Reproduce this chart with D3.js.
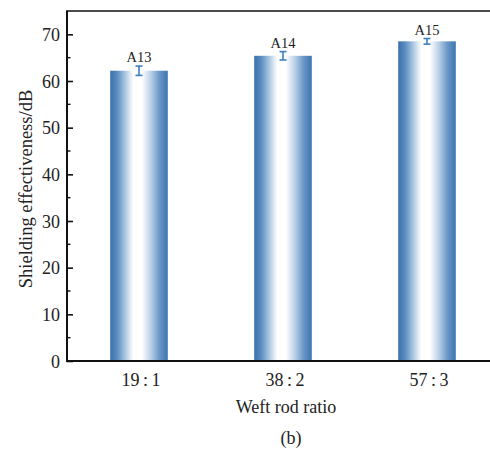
<!DOCTYPE html>
<html>
<head>
<meta charset="utf-8">
<script src="https://cdn.jsdelivr.net/npm/d3@7"></script>
<style>
  html, body { margin: 0; padding: 0; background: #fff; }
  svg { display: block; }
</style>
</head>
<body>
<svg id="chart" width="490" height="450"></svg>
<script>
// Shielding effectiveness by weft rod ratio
const categories = ["19\u2009:\u20091", "38\u2009:\u20092", "57\u2009:\u20093"];
const sampleLabels = ["A13", "A14", "A15"];
const values = [62.2, 65.4, 68.5];
const errors = [1.0, 0.9, 0.6];
const yTicks = [0, 10, 20, 30, 40, 50, 60, 70];
const yMinorTicks = [5, 15, 25, 35, 45, 55, 65];

const serif = "Liberation Serif, Times New Roman, Times, DejaVu Serif, serif";

const svg = d3.select("#chart")
  .attr("font-family", serif)
  .style("font-family", serif);
const m = { left: 67, top: 11, right: 499, bottom: 361 };

const x = d3.scaleBand()
  .domain(categories)
  .range([m.left, m.right])
  .paddingInner(0.6)
  .paddingOuter(0.3);

const y = d3.scaleLinear().domain([0, 75]).range([m.bottom, m.top]);

// horizontal blue–white–blue fill for the bars
const defs = svg.append("defs");
const grad = defs.append("linearGradient")
  .attr("id", "barFill")
  .attr("x1", "0").attr("x2", "1").attr("y1", "0").attr("y2", "0");
[
  [0.00, "#3a71ab"],
  [0.12, "#5a8cc0"],
  [0.28, "#b7cfe6"],
  [0.40, "#ffffff"],
  [0.55, "#ffffff"],
  [0.70, "#bcd2e7"],
  [0.86, "#6795c6"],
  [1.00, "#3f76b0"]
].forEach(([o, c]) => grad.append("stop").attr("offset", o).attr("stop-color", c));

// bars
svg.append("g").selectAll("rect")
  .data(values)
  .join("rect")
  .attr("x", (d, i) => x(categories[i]))
  .attr("y", d => y(d))
  .attr("width", x.bandwidth())
  .attr("height", d => y(0) - y(d))
  .attr("fill", "url(#barFill)");

// error bars
const eg = svg.append("g").attr("stroke", "#3b7fc1").attr("stroke-width", 1.6);
values.forEach((v, i) => {
  const cx = x(categories[i]) + x.bandwidth() / 2;
  eg.append("line").attr("x1", cx).attr("x2", cx).attr("y1", y(v + errors[i])).attr("y2", y(v - errors[i]));
  eg.append("line").attr("x1", cx - 3.5).attr("x2", cx + 3.5).attr("y1", y(v + errors[i])).attr("y2", y(v + errors[i]));
  eg.append("line").attr("x1", cx - 3.5).attr("x2", cx + 3.5).attr("y1", y(v - errors[i])).attr("y2", y(v - errors[i]));
});

// sample labels above the error bars
svg.append("g").selectAll("text")
  .data(values)
  .join("text")
  .attr("x", (d, i) => x(categories[i]) + x.bandwidth() / 2)
  .attr("y", (d, i) => y(d + errors[i]) - 4)
  .attr("text-anchor", "middle")
  .attr("font-family", serif)
  .attr("font-size", 14.5)
  .attr("fill", "#222")
  .text((d, i) => sampleLabels[i]);

// y axis with inward ticks
const yAxis = svg.append("g")
  .attr("transform", `translate(${m.left},0)`)
  .call(d3.axisLeft(y).tickValues(yTicks).tickSize(-6).tickPadding(7).tickFormat(d3.format("d")));
yAxis.attr("font-family", serif).attr("font-size", 18);
yAxis.select(".domain").remove();
yAxis.selectAll(".tick line").attr("stroke", "#111").attr("stroke-width", 1.6);
yAxis.selectAll(".tick text")
  .attr("x", -7).attr("dy", "0.34em")
  .attr("font-family", serif).attr("font-size", 18).attr("fill", "#222");

svg.append("g").selectAll("line")
  .data(yMinorTicks)
  .join("line")
  .attr("x1", m.left).attr("x2", m.left + 3.5)
  .attr("y1", d => y(d)).attr("y2", d => y(d))
  .attr("stroke", "#111").attr("stroke-width", 1.4);

// frame lines
const frame = svg.append("g").attr("stroke", "#111").attr("fill", "none");
frame.append("line").attr("x1", m.left).attr("x2", m.left).attr("y1", m.top).attr("y2", m.bottom + 1).attr("stroke-width", 2);
frame.append("line").attr("x1", m.left - 1).attr("x2", m.right).attr("y1", m.bottom).attr("y2", m.bottom).attr("stroke-width", 2);
frame.append("line").attr("x1", m.left - 1).attr("x2", m.right).attr("y1", m.top).attr("y2", m.top).attr("stroke-width", 1.6);

// category labels
svg.append("g").selectAll("text")
  .data(categories)
  .join("text")
  .attr("x", d => x(d) + x.bandwidth() / 2 + 2)
  .attr("y", 386)
  .attr("text-anchor", "middle")
  .attr("font-family", serif)
  .attr("font-size", 18)
  .attr("fill", "#222")
  .text(d => d);

// axis titles and caption
svg.append("text")
  .attr("x", x(categories[1]) + x.bandwidth() / 2 + 3)
  .attr("y", 413)
  .attr("text-anchor", "middle")
  .attr("font-family", serif)
  .attr("font-size", 18)
  .attr("fill", "#222")
  .text("Weft rod ratio");

svg.append("text")
  .attr("transform", `translate(32,189) rotate(-90)`)
  .attr("text-anchor", "middle")
  .attr("font-family", serif)
  .attr("font-size", 18.5)
  .attr("fill", "#222")
  .text("Shielding effectiveness/dB");

svg.append("text")
  .attr("x", x(categories[1]) + x.bandwidth() / 2 + 8)
  .attr("y", 444)
  .attr("text-anchor", "middle")
  .attr("font-family", serif)
  .attr("font-size", 18)
  .attr("fill", "#222")
  .text("(b)");
</script>
</body>
</html>
